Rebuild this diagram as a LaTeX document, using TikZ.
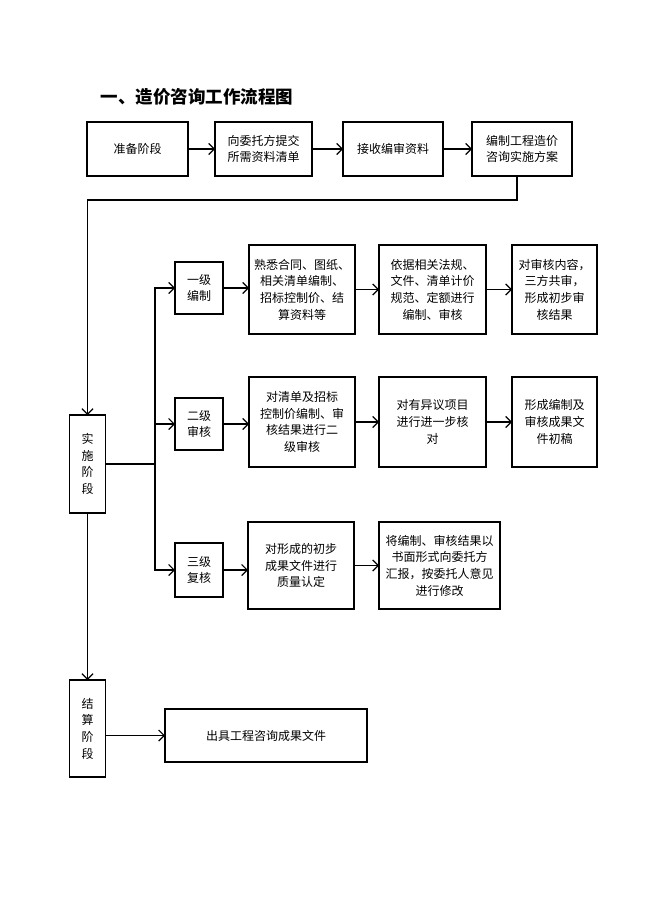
\documentclass[tikz,border=0pt]{standalone}
\usepackage{fontspec}
\setmainfont{Noto Sans CJK SC}
\usetikzlibrary{arrows.meta}

\begin{document}
\begin{tikzpicture}[
		x=1pt, y=-1pt,
		box/.style = {rectangle, draw, line width=1.7pt,% boxes of the flow
			inner sep=0pt, outer sep=0pt, align=center,
			font=\fontsize{12}{16.7}\selectfont},
		arr/.style = {line width=1.2pt,
			-{Straight Barb[length=5.5pt, width=11pt, line width=1.2pt]}},
		]
		\useasboundingbox (0,0) rectangle (650,920);
		\node[anchor=west, font=\fontsize{17.5}{20}\selectfont\bfseries] (title) at (97,97) {一、造价咨询工作流程图};
		% first row
		\node[box, minimum width=101pt, minimum height=54pt] (prep) at (137.5,149) {准备阶段};
		\node[box, minimum width=97pt, minimum height=54pt] (submit) at (263.5,149) {向委托方提交\\所需资料清单};
		\node[box, minimum width=100pt, minimum height=54pt] (receive) at (393,149) {接收编审资料};
		\node[box, minimum width=100pt, minimum height=54pt] (plan) at (522,149) {编制工程造价\\咨询实施方案};
		\foreach \a/\b in {prep/submit,submit/receive,receive/plan}
		\draw[arr] (\a) -- (\b);
		% stages
		\node[box, minimum width=36pt, minimum height=98pt] (impl) at (87.5,464) {实\\施\\阶\\段};
		\node[box, minimum width=36pt, minimum height=97pt] (settle) at (87.5,728.5) {结\\算\\阶\\段};
		\node[box, minimum width=202pt, minimum height=53pt] (result) at (266,735.5) {出具工程咨询成果文件};
		\draw[arr] ([xshift=-5pt]plan.south) -- ++(0,24) -| (impl.north);
		\draw[arr] (impl) -- (settle);
		\draw[arr] (settle.east |- result.west) -- (result.west);
		% three levels
		\node[box, minimum width=48pt, minimum height=52pt] (l1) at (199,288) {一级\\编制};
		\node[box, minimum width=48pt, minimum height=52pt] (l2) at (199,424) {二级\\审核};
		\node[box, minimum width=48pt, minimum height=54pt] (l3) at (199,570) {三级\\复核};
		\coordinate (split) at (155,464);
		\draw[line width=1.2pt] (impl.east) -- (split);
		\foreach \n in {l1,l2,l3}
		\draw[arr] (split) |- (\n.west);
		% level 1
		\node[box, minimum width=106pt, minimum height=89pt] (a1) at (302,289.5) {熟悉合同、图纸、\\相关清单编制、\\招标控制价、结\\算资料等};
		\node[box, minimum width=107pt, minimum height=89pt] (b1) at (432.5,289.5) {依据相关法规、\\文件、清单计价\\规范、定额进行\\编制、审核};
		\node[box, minimum width=85pt, minimum height=89pt] (c1) at (554.5,289.5) {对审核内容，\\三方共审，\\形成初步审\\核结果};
		% level 2
		\node[box, minimum width=106pt, minimum height=90pt] (a2) at (302,422) {对清单及招标\\控制价编制、审\\核结果进行二\\级审核};
		\node[box, minimum width=107pt, minimum height=90pt] (b2) at (432.5,422) {对有异议项目\\进行进一步核\\对};
		\node[box, minimum width=85pt, minimum height=90pt] (c2) at (554.5,422) {形成编制及\\审核成果文\\件初稿};
		% level 3
		\node[box, minimum width=106pt, minimum height=87pt] (a3) at (301,565.5) {对形成的初步\\成果文件进行\\质量认定};
		\node[box, minimum width=121pt, minimum height=87pt] (b3) at (439.5,565.5) {将编制、审核结果以\\书面形式向委托方\\汇报，按委托人意见\\进行修改};
		\foreach \a/\b in {l1/a1,a1/b1,b1/c1,l2/a2,a2/b2,b2/c2,l3/a3,a3/b3}
		\draw[arr] (\a.east) -- (\a.east -| \b.west);
	\end{tikzpicture}
\end{document}
